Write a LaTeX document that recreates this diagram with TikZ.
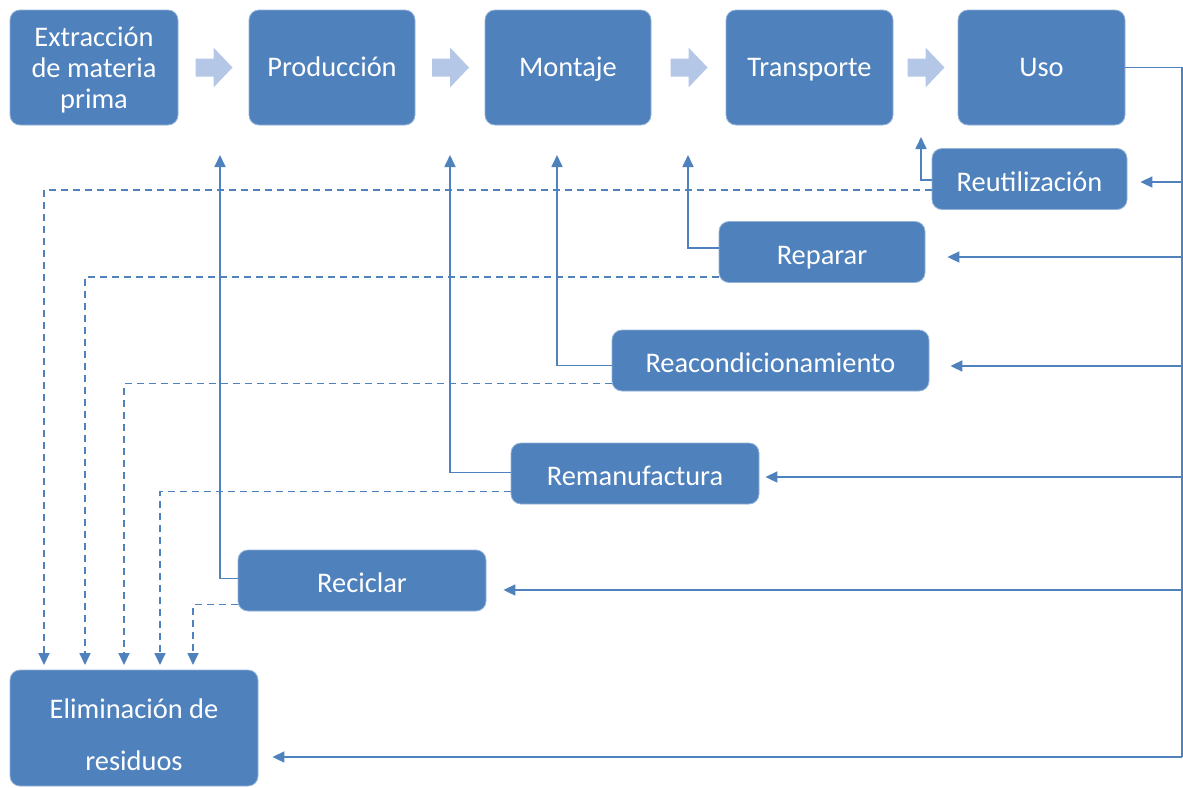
\documentclass[tikz,border=0pt]{standalone}
\usepackage{fontspec}
\setmainfont{Carlito}
\usetikzlibrary{arrows.meta,calc}
\definecolor{boxblue}{RGB}{79,129,189}
\definecolor{chevblue}{RGB}{180,199,231}
\tikzset{
	stage/.style={rectangle, rounded corners=5pt, fill=boxblue, draw=boxblue!60!white, line width=0.4pt,
		text=white, align=center, inner sep=0pt, font=\fontsize{14.2}{15.5}\selectfont},
	oneline/.style={stage, text height=11pt, text depth=2pt},
	option/.style={stage, text height=12.5pt, text depth=0.5pt, minimum height=30.5pt},
	link/.style={draw=boxblue, line width=0.85pt},
	flow/.style={link, -{Triangle[length=6pt,width=5.5pt]}},
	waste/.style={flow, dash pattern=on 3.5pt off 2.5pt},
	chev/.style={fill=chevblue},
}
\begin{document}
\begin{tikzpicture}[x=0.5pt,y=-0.5pt]
	\useasboundingbox (0,0) rectangle (1183,787);
	% life cycle chain
	\node[stage, text height=44pt, text depth=3.5pt, minimum width=84pt, minimum height=57.5pt] (ext) at (94,67.5) {Extracción\\de materia\\prima};
	\node[oneline, minimum width=83pt, minimum height=57.5pt] (prod) at (332,67.5) {Producción};
	\node[oneline, minimum width=83pt, minimum height=57.5pt] (mont) at (568,67.5) {Montaje};
	\node[oneline, minimum width=83.5pt, minimum height=57.5pt] (trans) at (809.5,67.5) {Transporte};
	\node[oneline, minimum width=83.5pt, minimum height=57.5pt] (uso) at (1041.5,67.5) {Uso};
	% chevrons between stages
	\foreach \a/\b in {ext/prod, prod/mont, mont/trans, trans/uso}
	{
		\begin{scope}[shift={($(\a.east)!0.5!(\b.west)$)}]
			\fill[chev] (-18,-9) -- (0,-9) -- (0,-20) -- (19,0) -- (0,20) -- (0,9) -- (-18,9) -- cycle;
		\end{scope}
	}
	% recovery options
	\node[option, minimum width=97.5pt] (reut) at (1029.5,179) {Reutilización};
	\node[option, minimum width=103pt] (rep) at (822,252) {Reparar};
	\node[option, minimum width=158.5pt] (reac) at (770.5,360.5) {Reacondicionamiento};
	\node[option, minimum width=124pt] (reman) at (635,473.5) {Remanufactura};
	\node[option, minimum width=124pt] (reci) at (362,580.5) {Reciclar};
	\node[stage, text height=44pt, text depth=1.5pt, minimum width=124pt, minimum height=58pt] (elim) at (134,728) {Eliminación de\\[10.5pt]residuos};
	% feed from Uso down the right side
	\foreach \n/\y/\s in {reut/182/6.5, rep/257/11, reac/366/10.5, reman/477/3, reci/590/8.5, elim/757/7}
	{
		\coordinate (in_\n) at (1182,\y);
		\draw[flow, shorten >=\s pt] (in_\n) -- (\n.east |- in_\n);
	}
	\draw[link] (uso.east) -| (in_elim);
	% back into the chain
	\foreach \n/\x/\y/\dy in {reut/921/137/1, rep/688/155/-4, reac/557/155/5, reman/450/155/-1, reci/220/155/-2}
	{
		\coordinate (up_\n) at (\x,\y);
		\draw[flow] ($(\n.west)+(0,\dy)$) -| (up_\n);
	}
	% to waste disposal
	\foreach \n/\dy/\x in {reut/11/44, rep/25/85, reac/23/124, reman/18/160, reci/24/193}
	{
		\coordinate (down_\n) at (\x,665);
		\draw[waste] ($(\n.west)+(0,\dy)$) -| (down_\n);
	}
\end{tikzpicture}
\end{document}
